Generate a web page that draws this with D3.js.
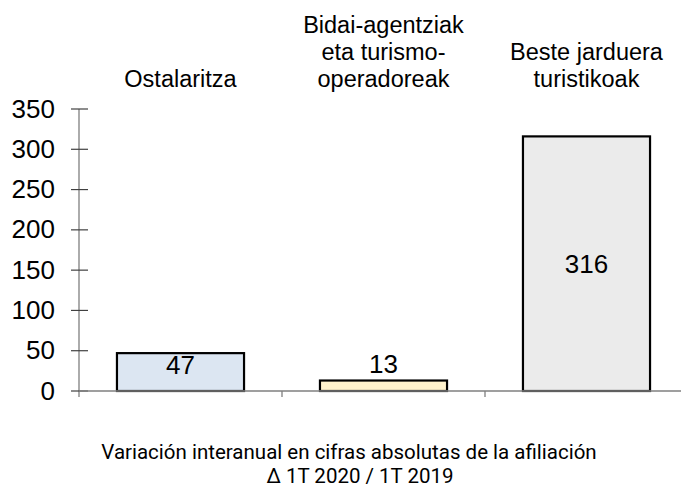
<!DOCTYPE html>
<html>
<head>
<meta charset="utf-8">
<script src="https://cdn.jsdelivr.net/npm/d3@7"></script>
<style>
  body { margin: 0; background: #fff; }
  text { font-family: "Liberation Sans", Arial, sans-serif; fill: #000; }
</style>
</head>
<body>
<div id="chart"></div>
<script>
// datos
var categories = ["Ostalaritza", "Bidai-agentziak eta turismo-operadoreak", "Beste jarduera turistikoak"];
var catLines = [["Ostalaritza"], ["Bidai-agentziak", "eta turismo-", "operadoreak"], ["Beste jarduera", "turistikoak"]];
var values = [47, 13, 316];
var yTicks = [0, 50, 100, 150, 200, 250, 300, 350];
var fills = ["#dce6f2", "#fff2cc", "#ebebeb"];
var labelPos = ["inside", "outside", "center"];
var footer = ["Variación interanual en cifras absolutas de la afiliación", "Δ 1T 2020 / 1T 2019"];

var W = 681, H = 488;
var svg = d3.select("#chart").append("svg")
   .attr("width", W)
   .attr("height", H);

var x = d3.scaleBand()
   .domain(categories)
   .range([79, 688])
   .paddingInner(0.374)
   .paddingOuter(0.187);

var y = d3.scaleLinear()
   .domain([0, 350])
   .range([391, 109]);

// eje y
svg.append("line")
   .attr("x1", 79).attr("x2", 79)
   .attr("y1", y(350)).attr("y2", y(0) + 6)
   .attr("stroke", "#7f7f7f").attr("stroke-width", 1.3);

svg.selectAll(".ytick")
   .data(yTicks)
   .enter()
   .append("line")
   .attr("x1", 71).attr("x2", 88)
   .attr("y1", function(d) { return y(d); })
   .attr("y2", function(d) { return y(d); })
   .attr("stroke", "#404040").attr("stroke-width", 1.2);

svg.selectAll(".ylab")
   .data(yTicks)
   .enter()
   .append("text")
   .attr("x", 55)
   .attr("y", function(d) { return y(d); })
   .attr("dy", "0.33em")
   .attr("text-anchor", "end")
   .style("font-size", "26px")
   .text(function(d) { return d; });

// barras
svg.selectAll(".bar")
   .data(values)
   .enter()
   .append("rect")
   .attr("x", function(d, i) { return x(categories[i]); })
   .attr("y", function(d) { return y(d); })
   .attr("width", x.bandwidth())
   .attr("height", function(d) { return y(0) - y(d); })
   .attr("fill", function(d, i) { return fills[i]; })
   .attr("stroke", "#000")
   .attr("stroke-width", 2.2);

// eje x
svg.append("line")
   .attr("x1", 79).attr("x2", W)
   .attr("y1", y(0)).attr("y2", y(0))
   .attr("stroke", "#7f7f7f").attr("stroke-width", 1.3);

svg.selectAll(".xtick")
   .data([1, 2])
   .enter()
   .append("line")
   .attr("x1", function(d) { return x.range()[0] + d * x.step(); })
   .attr("x2", function(d) { return x.range()[0] + d * x.step(); })
   .attr("y1", y(0)).attr("y2", y(0) + 6)
   .attr("stroke", "#7f7f7f").attr("stroke-width", 1.3);

// etiquetas de valor
svg.selectAll(".val")
   .data(values)
   .enter()
   .append("text")
   .attr("x", function(d, i) { return x(categories[i]) + x.bandwidth() / 2; })
   .attr("y", function(d, i) {
      if (labelPos[i] == "inside") return y(d) + 21;
      if (labelPos[i] == "outside") return y(d) - 8;
      return (y(d) + y(0)) / 2 + 9;
   })
   .attr("text-anchor", "middle")
   .style("font-size", "26px")
   .text(function(d) { return d; });

// categorias arriba
catLines.forEach(function(lines, i) {
   var cx = x(categories[i]) + x.bandwidth() / 2;
   lines.forEach(function(l, j) {
      svg.append("text")
         .attr("x", cx)
         .attr("y", 87 - (lines.length - 1 - j) * 27)
         .attr("text-anchor", "middle")
         .style("font-size", "23.5px")
         .text(l);
   });
});

// pie
svg.append("text")
   .attr("x", 349).attr("y", 459)
   .attr("text-anchor", "middle")
   .style("font-family", "Roboto, sans-serif")
   .style("font-size", "20.5px")
   .text(footer[0]);

svg.append("text")
   .attr("x", 360).attr("y", 483)
   .attr("text-anchor", "middle")
   .style("font-family", "Roboto, sans-serif")
   .style("font-size", "20.5px")
   .text(footer[1]);
</script>
</body>
</html>
